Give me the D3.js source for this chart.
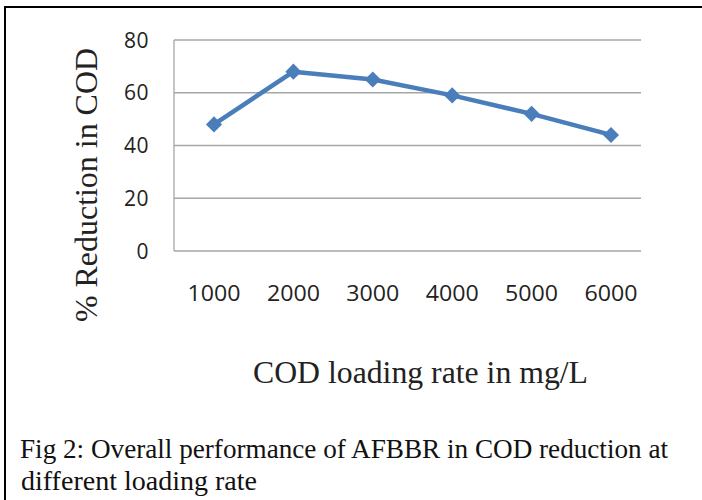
<!DOCTYPE html>
<html>
<head>
<meta charset="utf-8">
<script src="https://cdn.jsdelivr.net/npm/d3@7"></script>
<style>
  body { margin: 0; background: #fff; }
  svg { display: block; }
</style>
</head>
<body>
<svg id="chart" width="702" height="500"></svg>
<script>
// values
const loadingRates = ["1000", "2000", "3000", "4000", "5000", "6000"]
const codReduction = [48, 68, 65, 59, 52, 44]
const yTicks = [0, 20, 40, 60, 80]

const serif = "'Liberation Serif', 'Times New Roman', Times, serif"
const sans = "'Open Sans', 'Noto Sans', sans-serif"

const svg = d3.select("#chart")

// frame round the figure (right and bottom run off the picture)
svg.append("rect")
  .attr("x", 5).attr("y", 7)
  .attr("width", 720).attr("height", 520)
  .attr("fill", "none")
  .attr("stroke", "#000")
  .attr("stroke-width", 2)

const plotLeft = 174, plotRight = 641, plotTop = 40, plotBottom = 251

const x = d3.scalePoint()
  .domain(loadingRates)
  .range([214, 611])

const y = d3.scaleLinear()
  .domain([0, 80])
  .range([plotBottom, plotTop])

// gridlines
svg.append("g")
  .selectAll("line")
  .data(yTicks)
  .join("line")
  .attr("x1", plotLeft).attr("x2", plotRight)
  .attr("y1", d => y(d)).attr("y2", d => y(d))
  .attr("stroke", "#a6a6a6")
  .attr("stroke-width", 1.3)

// left axis line
svg.append("line")
  .attr("x1", plotLeft).attr("x2", plotLeft)
  .attr("y1", plotTop).attr("y2", plotBottom)
  .attr("stroke", "#a6a6a6")
  .attr("stroke-width", 1.3)

// y tick labels
svg.append("g")
  .selectAll("text")
  .data(yTicks)
  .join("text")
  .attr("x", 149)
  .attr("y", d => y(d))
  .attr("dy", "0.36em")
  .attr("text-anchor", "end")
  .attr("font-family", sans)
  .attr("font-size", 21)
  .attr("letter-spacing", 0.5)
  .attr("fill", "#222")
  .text(d => d)

// x tick labels
svg.append("g")
  .selectAll("text")
  .data(loadingRates)
  .join("text")
  .attr("x", d => x(d))
  .attr("y", 301)
  .attr("text-anchor", "middle")
  .attr("font-family", sans)
  .attr("font-size", 21)
  .attr("textLength", 53)
  .attr("lengthAdjust", "spacingAndGlyphs")
  .attr("fill", "#222")
  .text(d => d)

// the series
const line = d3.line()
  .x((d, i) => x(loadingRates[i]))
  .y(d => y(d))

svg.append("path")
  .datum(codReduction)
  .attr("d", line)
  .attr("fill", "none")
  .attr("stroke", "#4a7ebb")
  .attr("stroke-width", 4.5)
  .attr("stroke-linejoin", "round")

svg.append("g")
  .selectAll("path")
  .data(codReduction)
  .join("path")
  .attr("transform", (d, i) => `translate(${x(loadingRates[i])},${y(d)})`)
  .attr("d", d3.symbol().type(d3.symbolDiamond2).size(165))
  .attr("fill", "#4a7ebb")

// axis titles
svg.append("text")
  .attr("transform", "translate(97,185) rotate(-90)")
  .attr("text-anchor", "middle")
  .attr("font-family", serif)
  .attr("font-size", 32)
  .attr("textLength", 274)
  .attr("lengthAdjust", "spacingAndGlyphs")
  .attr("fill", "#222")
  .text("% Reduction in COD")

svg.append("text")
  .attr("x", 253)
  .attr("y", 383)
  .attr("font-family", serif)
  .attr("font-size", 31)
  .attr("textLength", 335)
  .attr("lengthAdjust", "spacingAndGlyphs")
  .attr("fill", "#222")
  .text("COD loading rate in mg/L")

// caption
const caption = [
  "Fig 2: Overall performance of AFBBR in COD reduction at",
  "different loading rate"
]
svg.append("text")
  .attr("x", 20).attr("y", 458)
  .attr("font-family", serif)
  .attr("font-size", 27)
  .attr("textLength", 648)
  .attr("lengthAdjust", "spacingAndGlyphs")
  .attr("fill", "#111")
  .text(caption[0])
svg.append("text")
  .attr("x", 21).attr("y", 490)
  .attr("font-family", serif)
  .attr("font-size", 27)
  .attr("textLength", 236)
  .attr("lengthAdjust", "spacingAndGlyphs")
  .attr("fill", "#111")
  .text(caption[1])
</script>
</body>
</html>
